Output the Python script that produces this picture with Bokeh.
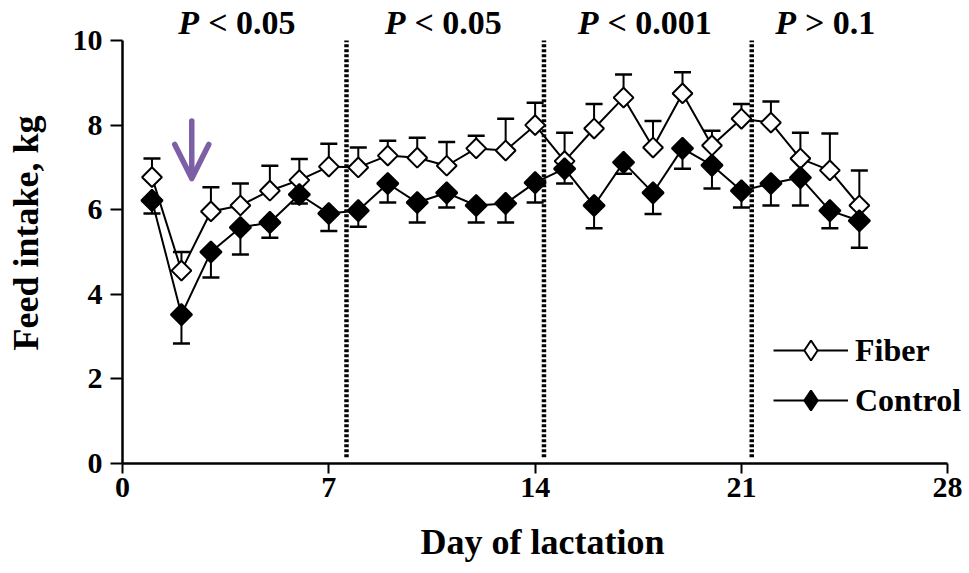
import math
from bokeh.plotting import figure
from bokeh.models import (Range1d, FixedTicker, Legend, LegendItem, Arrow, OpenHead,
                          ColumnDataSource)
from bokeh.core.properties import value
from bokeh.embed import file_html
from bokeh.resources import INLINE

# ---------------- data ----------------
days = [1, 2, 3, 4, 5, 6, 7, 8, 9, 10, 11, 12, 13, 14, 15, 16, 17, 18, 19, 20, 21, 22, 23, 24, 25]
fiber = [6.77, 4.56, 5.96, 6.10, 6.45, 6.70, 7.02, 7.00, 7.28, 7.23, 7.04, 7.45, 7.40, 8.00,
         7.15, 7.92, 8.65, 7.47, 8.75, 7.52, 8.15, 8.06, 7.21, 6.93, 6.10]
fiber_sem = [0.44, 0.44, 0.57, 0.52, 0.59, 0.50, 0.54, 0.47, 0.35, 0.47, 0.56, 0.30, 0.75, 0.53,
             0.67, 0.58, 0.55, 0.63, 0.50, 0.35, 0.35, 0.50, 0.61, 0.87, 0.83]
control = [6.22, 3.52, 5.00, 5.58, 5.70, 6.36, 5.91, 5.98, 6.62, 6.17, 6.40, 6.10, 6.15, 6.64,
           6.97, 6.10, 7.12, 6.40, 7.45, 7.05, 6.45, 6.62, 6.76, 5.98, 5.74]
control_sem = [0.31, 0.68, 0.60, 0.64, 0.36, 0.21, 0.41, 0.38, 0.45, 0.47, 0.35, 0.40, 0.45, 0.47,
               0.35, 0.54, 0.27, 0.50, 0.48, 0.55, 0.40, 0.52, 0.66, 0.42, 0.64]

x_ticks = [0, 7, 14, 21, 28]
y_ticks = [0, 2, 4, 6, 8, 10]

period_breaks = [7.6, 14.3, 21.35]
p_label_day = [2.6, 9.6, 16.15, 22.85]
p_label_rest = ["< 0.05", "< 0.05", "< 0.001", "> 0.1"]
p_label_level = 10.43

arrow_day = 2.35
arrow_top = 8.1
arrow_tip = 6.74

FONT = "Liberation Serif"
PURPLE = "#7d5fa6"

# ---------------- figure ----------------
p = figure(frame_width=840, frame_height=461, output_backend="svg", toolbar_location=None,
           x_range=Range1d(0, 28.5), y_range=Range1d(0, 10.9),
           min_border_left=122, min_border_right=0, min_border_top=2, min_border_bottom=98)
p.outline_line_color = None
p.grid.visible = False
p.background_fill_color = "white"
p.border_fill_color = "white"

for ax in (p.xaxis[0], p.yaxis[0]):
    ax.axis_line_width = 2.5
    ax.major_tick_line_width = 2
    ax.major_tick_in = 0
    ax.minor_tick_out = 0
    ax.minor_tick_in = 0
    ax.major_label_text_font = FONT
    ax.major_label_text_font_style = "bold"
    ax.major_label_text_font_size = "30px"
    ax.major_label_text_color = "black"
    ax.axis_label_text_font = FONT
    ax.axis_label_text_font_style = "bold"
    ax.axis_label_text_font_size = "36px"
    ax.axis_label_text_color = "black"

p.xaxis.ticker = FixedTicker(ticks=x_ticks)
p.yaxis.ticker = FixedTicker(ticks=y_ticks)
p.xaxis.bounds = (0, 28)
p.yaxis.bounds = (0, 10)
p.xaxis.major_tick_out = 10
p.yaxis.major_tick_out = 12
p.xaxis.major_label_standoff = 4
p.yaxis.major_label_standoff = 8
p.xaxis.axis_label = "Day of lactation"
p.yaxis.axis_label = "Feed intake, kg"
p.xaxis.axis_label_standoff = 22
p.yaxis.axis_label_standoff = 24

# period separators
p.segment(x0=period_breaks, y0=[0.15] * 3, x1=period_breaks, y1=[10] * 3,
          line_width=4.5, line_color="black", line_dash="3 2")

# P labels
p.text(x=p_label_day, y=[p_label_level] * 4, text=["P"] * 4, text_font=value(FONT),
       text_font_style="bold italic", text_font_size="34px", text_align="right",
       text_baseline="middle", text_color="black")
p.text(x=p_label_day, y=[p_label_level] * 4, text=p_label_rest, text_font=value(FONT),
       text_font_style="bold", text_font_size="34px", text_align="left",
       text_baseline="middle", text_color="black", x_offset=9)

# error bars
src_f = ColumnDataSource(dict(day=days, mean=fiber,
                              top=[m + s for m, s in zip(fiber, fiber_sem)]))
src_c = ColumnDataSource(dict(day=days, mean=control,
                              bot=[m - s for m, s in zip(control, control_sem)]))
p.segment(x0="day", y0="mean", x1="day", y1="top", source=src_f, line_width=2, line_color="black")
p.scatter(x="day", y="top", source=src_f, marker="dash", size=17, line_width=2.5, line_color="black")
p.segment(x0="day", y0="mean", x1="day", y1="bot", source=src_c, line_width=2, line_color="black")
p.scatter(x="day", y="bot", source=src_c, marker="dash", size=17, line_width=2.5, line_color="black")

# series
fl = p.line(x="day", y="mean", source=src_f, line_width=2, line_color="black")
p.scatter(x="day", y="mean", source=src_f, marker="square", angle=math.pi / 4, size=14,
          fill_color="white", line_color="black", line_width=2)
cl = p.line(x="day", y="mean", source=src_c, line_width=2, line_color="black")
p.scatter(x="day", y="mean", source=src_c, marker="square", angle=math.pi / 4, size=15,
          fill_color="black", line_color="black", line_width=2)

# hidden diamond renderers of the same data, used only as legend keys
fk = p.scatter(x="day", y="mean", source=src_f, marker="diamond", size=20,
               fill_color="white", line_color="black", line_width=2, visible=False)
ck = p.scatter(x="day", y="mean", source=src_c, marker="diamond", size=20,
               fill_color="black", line_color="black", line_width=2, visible=False)

# arrow
p.add_layout(Arrow(end=OpenHead(size=34, line_width=5.5, line_color=PURPLE, line_cap="round",
                                line_join="round"),
                   x_start=arrow_day, y_start=arrow_top, x_end=arrow_day, y_end=arrow_tip,
                   line_width=5.5, line_color=PURPLE, line_cap="round"))

legend = Legend(items=[LegendItem(label="Fiber", renderers=[fl, fk]),
                       LegendItem(label="Control", renderers=[cl, ck])],
                location=(651, 38), glyph_width=75, glyph_height=50, label_height=50,
                spacing=-2, padding=0, margin=0, label_standoff=7,
                border_line_color=None, background_fill_alpha=0,
                inactive_fill_alpha=0,
                label_text_font=FONT, label_text_font_style="bold",
                label_text_font_size="32px", label_text_color="black")
p.add_layout(legend)

open("out.html", "w").write(file_html(p, INLINE))
